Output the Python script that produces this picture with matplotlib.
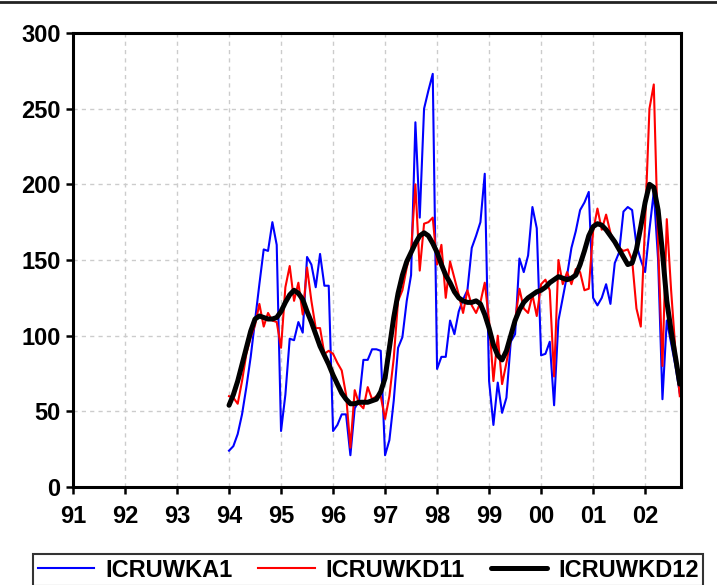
import numpy as np
import pandas as pd
import matplotlib
matplotlib.use("Agg")
import matplotlib.pyplot as plt
from matplotlib.lines import Line2D

plt.rcParams['font.family'] = ['Liberation Sans', 'DejaVu Sans']
plt.rcParams['font.weight'] = 'bold'

# monthly observations, 1994:01 - 2002:09
months = pd.period_range('1994-01', '2002-09', freq='M')

icruwka1 = [
    24, 27, 35, 48, 66, 86, 110, 134, 157, 156, 175, 160,      # 1994
    37, 61, 98, 97, 109, 102, 152, 147, 132, 154, 133, 133,    # 1995
    37, 41, 48, 48, 21, 52, 57, 84, 84, 91, 91, 90,            # 1996
    21, 31, 57, 92, 99, 123, 140, 241, 178, 250, 262, 273,     # 1997
    78, 86, 86, 110, 101, 116, 124, 130, 158, 166, 175, 207,   # 1998
    70, 41, 69, 49, 59, 96, 101, 151, 142, 153, 185, 171,      # 1999
    87, 88, 96, 54, 110, 125, 140, 158, 169, 183, 188, 195,    # 2000
    125, 120, 125, 134, 121, 148, 155, 182, 185, 183, 160, 150,  # 2001
    142, 170, 195, 150, 58, 110, 95, 80, 62,                   # 2002
]

icruwkd11 = [
    60, 59, 55, 70, 88, 99, 107, 121, 106, 115, 110, 109,
    92, 132, 146, 123, 135, 114, 145, 123, 105, 105, 88, 90,
    88, 82, 77, 61, 26, 64, 55, 52, 66, 58, 60, 60,
    45, 60, 85, 123, 130, 145, 156, 200, 143, 174, 175, 178,
    147, 160, 125, 149, 138, 127, 115, 130, 120, 115, 122, 135,
    110, 70, 100, 68, 82, 98, 110, 131, 118, 115, 127, 113,
    134, 137, 130, 73, 150, 134, 142, 134, 144, 142, 130, 131,
    169, 184, 170, 180, 168, 161, 158, 156, 157, 150, 118, 106,
    175, 250, 266, 160, 80, 177, 130, 90, 60,
]

icruwkd12 = [
    54, 61, 70, 81, 92, 103, 111, 113, 112, 111, 111, 112,
    116, 122, 127, 130, 128, 124, 116, 109, 101, 93, 87, 81,
    74, 68, 62, 58, 55, 55, 56, 56, 56, 57, 58, 63,
    72, 92, 112, 128, 140, 149, 155, 161, 166, 168, 166, 161,
    155, 147, 140, 135, 129, 125, 123, 122, 122, 123, 121, 114,
    105, 94, 87, 84, 90, 100, 110, 117, 122, 125, 127, 129,
    130, 132, 135, 137, 139, 138, 137, 138, 140, 147, 156, 166,
    172, 174, 173, 170, 166, 162, 157, 152, 147, 148, 157, 172,
    188, 200, 198, 183, 155, 123, 103, 86, 68,
]

year_ticks = list(range(1991, 2003))
year_labels = ['91', '92', '93', '94', '95', '96', '97', '98', '99', '00', '01', '02']

# fractional year for each month
x = months.year + (months.month - 1) / 12.0

fig = plt.figure(figsize=(7.17, 5.85), dpi=100)
ax = fig.add_axes([73 / 717, 1 - 487 / 585, 608 / 717, 454 / 585])

ax.plot(x, icruwka1, color='#0000ff', lw=1.5, label='ICRUWKA1')
ax.plot(x, icruwkd11, color='#ff0000', lw=1.5, label='ICRUWKD11')
ax.plot(x, icruwkd12, color='black', lw=3.6, label='ICRUWKD12',
        solid_capstyle='round')

ax.set_xlim(1991, 2002.69)
ax.set_ylim(0, 300)
ax.set_xticks(year_ticks)
ax.set_xticklabels(year_labels)
ax.set_yticks(range(0, 301, 50))

ax.grid(True, color='#cccccc', linestyle=(0, (3, 3)), linewidth=1.0)
ax.set_axisbelow(True)
for s in ax.spines.values():
    s.set_linewidth(2.2)
ax.tick_params(axis='both', direction='out', length=5, width=1.8,
               labelsize=17, pad=4)
ax.tick_params(axis='x', pad=8)
for lab in ax.get_xticklabels() + ax.get_yticklabels():
    lab.set_fontweight('bold')

# rule across the top of the page
fig.add_artist(Line2D([0, 1], [1 - 2 / 585, 1 - 2 / 585], color='#222222',
                      lw=2, transform=fig.transFigure))

leg = fig.legend(loc='upper left', bbox_to_anchor=(33 / 717, 1 - 554 / 585),
                 ncol=3, frameon=True, fancybox=False,
                 borderaxespad=0, borderpad=0.2, handlelength=2.4,
                 handletextpad=0.45, columnspacing=1.1,
                 prop={'weight': 'bold', 'size': 17})
leg.get_frame().set_edgecolor('black')
leg.get_frame().set_linewidth(1.5)

fig.savefig('out.png', dpi=100)
